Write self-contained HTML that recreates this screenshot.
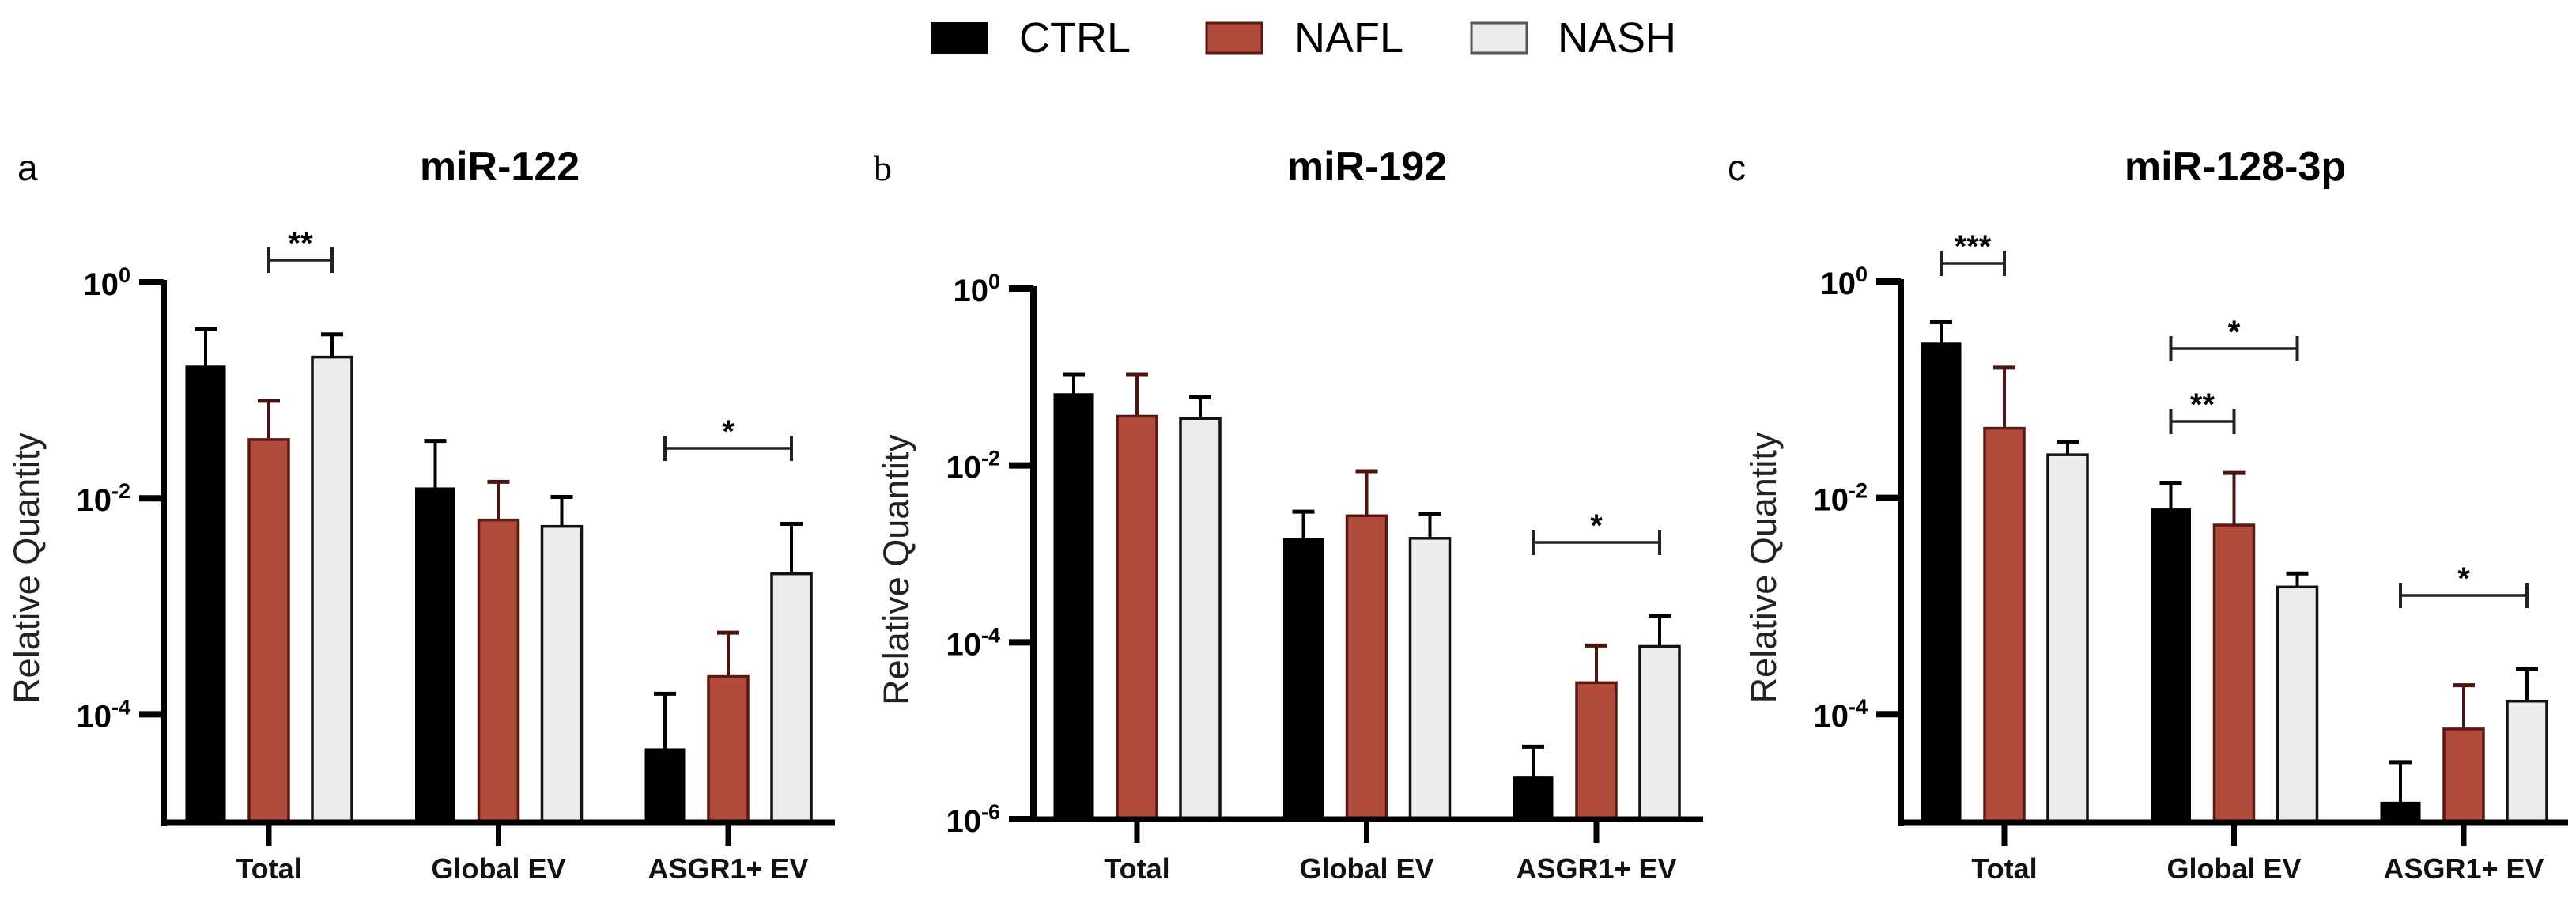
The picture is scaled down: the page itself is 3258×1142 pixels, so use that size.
<!DOCTYPE html>
<html><head><meta charset="utf-8">
<style>
html,body{margin:0;padding:0;background:#fff;}
svg{display:block;font-family:"Liberation Sans",Arial,sans-serif;}
</style></head>
<body>
<svg id="fig" width="3258" height="1142" viewBox="0 0 3258 1142" xmlns="http://www.w3.org/2000/svg">
  <g>
    <g>
      <rect x="1177" y="28" width="72" height="40" fill="#000"/>
      <text x="1289" y="66" font-size="54">CTRL</text>
    </g>
    <g>
      <rect x="1526" y="29" width="70" height="38" fill="#b04a3a" stroke="#5a1a12" stroke-width="3"/>
      <text x="1637" y="66" font-size="54">NAFL</text>
    </g>
    <g>
      <rect x="1861" y="29" width="70" height="38" fill="#ececec" stroke="#555" stroke-width="3"/>
      <text x="1970" y="66" font-size="54">NASH</text>
    </g>
  </g>
  <text x="22" y="228" font-size="46">a</text>
  <text x="1105" y="228" font-size="46" font-family="Liberation Serif, serif">b</text>
  <text x="2185" y="228" font-size="46">c</text>
</svg>
<script>
// ---- shared data ----
const categories = ["Total", "Global EV", "ASGR1+ EV"];
const seriesNames = ["CTRL", "NAFL", "NASH"];

// Panel a: miR-122 (means and upper error tops, per category)
const a_ctrl = [0.168, 0.0125, 4.8e-5];
const a_nafl = [0.035, 0.0063, 2.24e-4];
const a_nash = [0.203, 0.0055, 0.0020];
const a_ctrl_err = [0.37, 0.034, 1.55e-4];
const a_nafl_err = [0.08, 0.0142, 5.7e-4];
const a_nash_err = [0.33, 0.0103, 0.0058];
const a_ticks = [0, -2, -4];

// Panel b: miR-192
const b_ctrl = [0.065, 0.0015, 3.0e-6];
const b_nafl = [0.036, 0.0027, 3.5e-5];
const b_nash = [0.034, 0.0015, 9.0e-5];
const b_ctrl_err = [0.106, 0.0030, 6.6e-6];
const b_nafl_err = [0.106, 0.0086, 9.2e-5];
const b_nash_err = [0.059, 0.0028, 2.0e-4];
const b_ticks = [0, -2, -4, -6];

// Panel c: miR-128-3p
const c_ctrl = [0.27, 0.0079, 1.54e-5];
const c_nafl = [0.044, 0.0056, 7.3e-5];
const c_nash = [0.025, 0.0015, 1.32e-4];
const c_ctrl_err = [0.42, 0.0138, 3.6e-5];
const c_nafl_err = [0.16, 0.017, 1.85e-4];
const c_nash_err = [0.033, 0.0020, 2.6e-4];
const c_ticks = [0, -2, -4];

// significance brackets: [category index, from series, to series, label]
const a_sig = [[0, 1, 2, "**"], [2, 0, 2, "*"]];
const b_sig = [[2, 0, 2, "*"]];
const c_sig = [[0, 0, 1, "***"], [1, 0, 2, "*"], [1, 0, 1, "**"], [2, 0, 2, "*"]];

const NS = "http://www.w3.org/2000/svg";
const svg = document.getElementById("fig");
function mk(tag, attrs, parent) {
  const e = document.createElementNS(NS, tag);
  for (const k in attrs) e.setAttribute(k, attrs[k]);
  (parent || svg).appendChild(e);
  return e;
}
const fills = ["#000000", "#b04a3a", "#ececec"];
const strokes = ["#000000", "#5a1a12", "#111111"];
const errCol = ["#000000", "#4a1510", "#000000"];

function drawPanel(p) {
  const g = mk("g", {});
  
  
  const y = v => p.yTop + (p.logMax - Math.log10(v)) / (p.logMax - p.logMin) * (p.yBot - p.yTop);
  const yl = l => p.yTop + (p.logMax - l) / (p.logMax - p.logMin) * (p.yBot - p.yTop);
  const gx = i => p.g0 + i * p.gStep;
  const bx = (i, s) => gx(i) + (s - 1) * 80;
  // title
  const t = mk("text", {x: p.titleX, y: 228, "font-size": 52, "font-weight": "bold", "text-anchor": "middle"}, g);
  t.textContent = p.title;
  
  
  // y label
  const yt = mk("text", {x: 0, y: 0, "font-size": 45, "text-anchor": "middle", fill: "#222",
    transform: `translate(${p.axisX - 158},${(p.yTop + p.yBot) / 2 + 20}) rotate(-90)`}, g);
  yt.textContent = "Relative Quantity";
  
  
  // bars
  for (let i = 0; i < categories.length; i++) {
    for (let s = 0; s < 3; s++) {
      const v = p.vals[s][i], e = p.errs[s][i];
      const cx = bx(i, s), top = y(v), ey = y(e);
      const el = mk("line", {x1: cx, x2: cx, y1: top, y2: ey, stroke: errCol[s], "stroke-width": 4}, g);
      
      
      const cap = mk("line", {x1: cx - 14, x2: cx + 14, y1: ey, y2: ey, stroke: errCol[s], "stroke-width": 5}, g);
      
      
      const r = mk("rect", {x: cx - 25, y: top, width: 50, height: p.yBot - top, fill: fills[s],
        stroke: strokes[s], "stroke-width": s === 0 ? 1 : 3.5}, g);
      
      
    }
  }
  // axes
  const ya = mk("line", {x1: p.axisX, x2: p.axisX, y1: p.yTop - 3, y2: p.yBot + 4, stroke: "#000", "stroke-width": 8}, g);
  
  
  const xa = mk("line", {x1: p.xStart, x2: p.xEnd, y1: p.yBot, y2: p.yBot, stroke: "#000", "stroke-width": 7}, g);
  
  
  for (const l of p.ticks) {
    const ty = yl(l);
    const tk = mk("line", {x1: p.axisX - 31, x2: p.axisX, y1: ty, y2: ty, stroke: "#000", "stroke-width": 8}, g);
    
    
    const tl = mk("text", {x: p.axisX - 42, y: ty + 16, "font-size": 40, "font-weight": "bold", "text-anchor": "end"}, g);
    
    
    const b = document.createElementNS(NS, "tspan"); b.textContent = "10"; tl.appendChild(b);
    const sp = document.createElementNS(NS, "tspan");
    sp.setAttribute("dy", "-16"); sp.setAttribute("font-size", "27"); sp.textContent = String(l);
    tl.appendChild(sp);
  }
  for (let i = 0; i < categories.length; i++) {
    const tk = mk("line", {x1: gx(i), x2: gx(i), y1: p.yBot, y2: p.yBot + 30, stroke: "#000", "stroke-width": 7}, g);
    
    
    const tl = mk("text", {x: gx(i), y: 1111, "font-size": 36, "font-weight": "bold", "text-anchor": "middle", fill: "#111"}, g);
    tl.textContent = categories[i];
    
    
  }
  // significance
  p.sig.forEach((sg, k) => {
    const x1 = bx(sg[0], sg[1]), x2 = bx(sg[0], sg[2]), by = p.sigY[k];
    const sgG = mk("g", {}, g);
    
    
    mk("line", {x1: x1, x2: x2, y1: by, y2: by, stroke: "#222", "stroke-width": 3.5}, sgG);
    mk("line", {x1: x1, x2: x1, y1: by - 16, y2: by + 16, stroke: "#222", "stroke-width": 4}, sgG);
    mk("line", {x1: x2, x2: x2, y1: by - 16, y2: by + 16, stroke: "#222", "stroke-width": 4}, sgG);
    const st = mk("text", {x: (x1 + x2) / 2, y: by - 8, "font-size": 40, "font-weight": "bold", "text-anchor": "middle"}, sgG);
    st.textContent = sg[3];
  });
}

drawPanel({name: "panel-a-mir-122", title: "miR-122", titleX: 632, axisX: 207, xStart: 207, xEnd: 1056,
  yTop: 357, yBot: 1040, logMax: 0, logMin: -5, g0: 340, gStep: 290.5, ticks: a_ticks,
  vals: [a_ctrl, a_nafl, a_nash], errs: [a_ctrl_err, a_nafl_err, a_nash_err],
  sig: a_sig, sigY: [329, 567]});
drawPanel({name: "panel-b-mir-192", title: "miR-192", titleX: 1729, axisX: 1307, xStart: 1277, xEnd: 2154,
  yTop: 365, yBot: 1036, logMax: 0, logMin: -6, g0: 1438, gStep: 290.5, ticks: b_ticks,
  vals: [b_ctrl, b_nafl, b_nash], errs: [b_ctrl_err, b_nafl_err, b_nash_err],
  sig: b_sig, sigY: [686]});
drawPanel({name: "panel-c-mir-128-3p", title: "miR-128-3p", titleX: 2827, axisX: 2404, xStart: 2404, xEnd: 3248,
  yTop: 356, yBot: 1040, logMax: 0, logMin: -5, g0: 2535, gStep: 290.5, ticks: c_ticks,
  vals: [c_ctrl, c_nafl, c_nash], errs: [c_ctrl_err, c_nafl_err, c_nash_err],
  sig: c_sig, sigY: [333, 441, 533, 753]});
</script>
</body></html>
